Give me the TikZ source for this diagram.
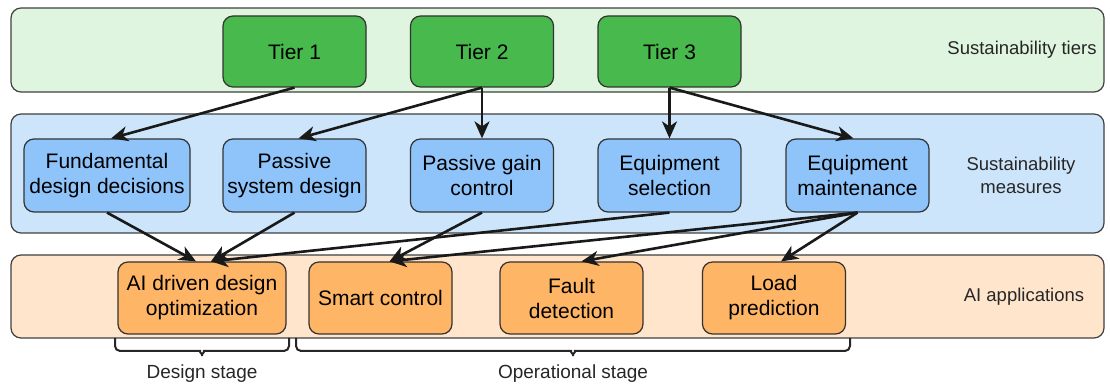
\documentclass[tikz,border=0pt]{standalone}
\usepackage{fontspec}
\setmainfont{Liberation Sans}
\usetikzlibrary{arrows.meta}
\definecolor{tierbg}{HTML}{DFF5DF}
\definecolor{tierfg}{HTML}{48B94C}
\definecolor{measurebg}{HTML}{CDE5FA}
\definecolor{measurefg}{HTML}{8FC4FA}
\definecolor{appbg}{HTML}{FFE5CC}
\definecolor{appfg}{HTML}{FFB566}

\begin{document}
\begin{tikzpicture}[x=0.5pt,y=-0.5pt,
    font=\fontsize{10.5}{12.5}\selectfont,
    band/.style={draw=black!75, line width=0.6pt, rounded corners=5pt, minimum width=546.5pt},
    box/.style={draw=black!80, line width=0.6pt, rounded corners=5pt, align=center, inner sep=1pt, minimum width=71.5pt},
    tierbox/.style={box, fill=tierfg, minimum height=35.5pt},
    measurebox/.style={box, fill=measurefg, minimum height=36.5pt},
    appbox/.style={box, fill=appfg, minimum height=36pt},
    bandlabel/.style={text=black!85, align=center, font=\fontsize{9.25}{11.5}\selectfont},
    link/.style={draw=black!90, line width=1.3pt, -{Stealth[length=8.5pt,width=7.5pt,inset=2.5pt]}},
    stagebrace/.style={draw=black!85, line width=1pt, rounded corners=2.5pt}]
	\useasboundingbox (0,0) rectangle (1110,389);

	% bands
	\node[band, fill=tierbg, minimum height=42pt] (tierband) at (557.5,50) {};
	\node[band, fill=measurebg, minimum height=59.5pt] (measureband) at (557.5,173.5) {};
	\node[band, fill=appbg, minimum height=41.5pt] (appband) at (557.5,296.5) {};
	\node[bandlabel] (tierlbl) at (1022,50) {Sustainability tiers};
	\node[bandlabel] (measurelbl) at (1021,175) {Sustainability\\measures};
	\node[bandlabel] (applbl) at (1024,297) {AI applications};

	% tiers
	\node[tierbox] (tier1) at (294.5,51.5) {Tier 1};
	\node[tierbox] (tier2) at (482,51.5) {Tier 2};
	\node[tierbox] (tier3) at (669.5,51.5) {Tier 3};

	% measures
	\node[measurebox, minimum width=83pt] (fund) at (107,175.5) {Fundamental\\design decisions};
	\node[measurebox] (psd) at (294.5,175.5) {Passive\\system design};
	\node[measurebox] (pgc) at (482,175.5) {Passive gain\\control};
	\node[measurebox] (esel) at (669.5,175.5) {Equipment\\selection};
	\node[measurebox] (emaint) at (857.5,175.5) {Equipment\\maintenance};

	% applications
	\node[appbox, minimum width=84pt] (aiopt) at (202,298) {AI driven design\\optimization};
	\node[appbox] (smart) at (380.5,298) {Smart control};
	\node[appbox] (fault) at (571.5,298) {Fault\\detection};
	\node[appbox] (load) at (774,298) {Load\\prediction};

	\draw[link] (tier1.south) -- ([xshift=2pt]fund.north);
	\draw[link] (tier2.south) -- ([xshift=2pt]psd.north);
	\draw[link] (tier2.south) -- (pgc.north);
	\draw[link] (tier3.south) -- (esel.north);
	\draw[link] (tier3.south) -- ([xshift=-2pt]emaint.north);

	\draw[link] (fund.south) -- ([xshift=-3pt]aiopt.north);
	\draw[link] (psd.south) -- ([xshift=4.5pt]aiopt.north);
	\draw[link] (esel.south) -- ([xshift=4.5pt]aiopt.north);
	\draw[link] (pgc.south) -- ([xshift=4.5pt]smart.north);
	\draw[link] (emaint.south) -- ([xshift=4.5pt]smart.north);
	\draw[link] (emaint.south) -- ([xshift=5pt]fault.north);
	\draw[link] (emaint.south) -- ([xshift=3.5pt]load.north);

	% stages
	\draw[stagebrace] (115,338) |- (195,351) to[out=0,in=90] (202,359) to[out=90,in=180] (209,351) -| (289,338);
	\draw[stagebrace] (296,338) |- (566,351) to[out=0,in=90] (573,359) to[out=90,in=180] (580,351) -| (850,338);
	\node[bandlabel, font=\fontsize{9.5}{11.5}\selectfont] (designlbl) at (202,374) {Design stage};
	\node[bandlabel, font=\fontsize{9.5}{11.5}\selectfont] (operlbl) at (573,374) {Operational stage};
\end{tikzpicture}
\end{document}
